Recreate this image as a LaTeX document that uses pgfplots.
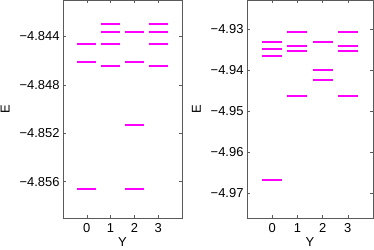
\documentclass[border=0pt]{standalone}
\usepackage{pgfplots}
\pgfplotsset{compat=1.18}
\usepackage{fontspec}
\setmainfont{Liberation Sans}
\definecolor{axgray}{RGB}{90,90,90}
\definecolor{mag}{RGB}{255,0,255}
\begin{document}
\begin{tikzpicture}
\path[use as bounding box] (0bp,0bp) rectangle (374bp,-250bp);
\pgfplotsset{
  myax/.style={
    scale only axis,
    anchor=north west,
    height=218bp,
    xmin=-1, xmax=4,
    xtick={0,1,2,3},
    axis line style={axgray},
    every tick/.style={axgray},
    major tick length=3bp,
    tick align=inside,
    font=\fontsize{13}{15}\selectfont,
    /pgf/number format/assume math mode=true,
    xticklabel style={yshift=-2bp},
    xlabel={Y}, ylabel={E},
    xlabel style={yshift=2bp},
    ylabel style={yshift=3bp},
    unbounded coords=jump,
  },
  lv/.style={color=mag, line width=2bp, no marks}
}
\begin{axis}[myax, at={(63bp,0bp)}, width=119bp,
  ymin=-4.859, ymax=-4.841,
  ytick={-4.856,-4.852,-4.848,-4.844},
  yticklabels={−4.856,−4.852,−4.848,−4.844},
]
\addplot[lv] coordinates {
(-0.4,-4.84466) (0.4,-4.84466) (0,nan)
(-0.4,-4.84613) (0.4,-4.84613) (0,nan)
(-0.4,-4.85657) (0.4,-4.85657) (0,nan)
(0.6,-4.84302) (1.4,-4.84302) (0,nan)
(0.6,-4.84364) (1.4,-4.84364) (0,nan)
(0.6,-4.84466) (1.4,-4.84466) (0,nan)
(0.6,-4.84648) (1.4,-4.84648) (0,nan)
(1.6,-4.84364) (2.4,-4.84364) (0,nan)
(1.6,-4.84613) (2.4,-4.84613) (0,nan)
(1.6,-4.85134) (2.4,-4.85134) (0,nan)
(1.6,-4.85657) (2.4,-4.85657) (0,nan)
(2.6,-4.84302) (3.4,-4.84302) (0,nan)
(2.6,-4.84364) (3.4,-4.84364) (0,nan)
(2.6,-4.84466) (3.4,-4.84466) (0,nan)
(2.6,-4.84648) (3.4,-4.84648)
};
\end{axis}
\begin{axis}[myax, at={(247bp,0bp)}, width=126bp,
  ymin=-4.976, ymax=-4.923,
  ytick={-4.97,-4.96,-4.95,-4.94,-4.93},
  yticklabels={−4.97,−4.96,−4.95,−4.94,−4.93},
]
\addplot[lv] coordinates {
(-0.4,-4.93327) (0.4,-4.93327) (0,nan)
(-0.4,-4.93480) (0.4,-4.93480) (0,nan)
(-0.4,-4.93651) (0.4,-4.93651) (0,nan)
(-0.4,-4.96676) (0.4,-4.96676) (0,nan)
(0.6,-4.93073) (1.4,-4.93073) (0,nan)
(0.6,-4.93407) (1.4,-4.93407) (0,nan)
(0.6,-4.93549) (1.4,-4.93549) (0,nan)
(0.6,-4.94644) (1.4,-4.94644) (0,nan)
(1.6,-4.93327) (2.4,-4.93327) (0,nan)
(1.6,-4.94000) (2.4,-4.94000) (0,nan)
(1.6,-4.94237) (2.4,-4.94237) (0,nan)
(2.6,-4.93073) (3.4,-4.93073) (0,nan)
(2.6,-4.93407) (3.4,-4.93407) (0,nan)
(2.6,-4.93549) (3.4,-4.93549) (0,nan)
(2.6,-4.94644) (3.4,-4.94644)
};
\end{axis}
\end{tikzpicture}
\end{document}
